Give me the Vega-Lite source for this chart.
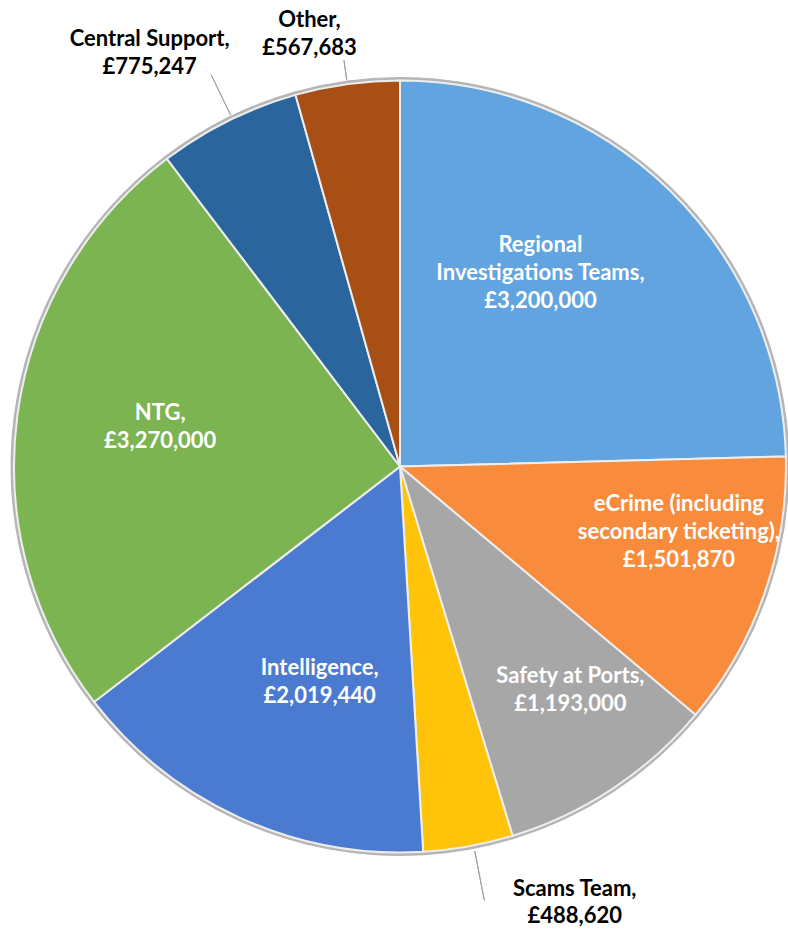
{
  "$schema": "https://vega.github.io/schema/vega-lite/v6.json",
  "autosize": {"type": "none"},
  "width": 776,
  "height": 925,
  "padding": {"left": 12, "top": 4, "right": 0, "bottom": 0},
  "background": "white",
  "config": {"view": {"stroke": null}},
  "data": {
    "values": [
      {"idx": 1, "cat": "Regional Investigations Teams", "value": 3200000, "label": "Regional\nInvestigations Teams,\n£3,200,000"},
      {"idx": 2, "cat": "eCrime (including secondary ticketing)", "value": 1501870, "label": "eCrime (including\nsecondary ticketing),\n£1,501,870"},
      {"idx": 3, "cat": "Safety at Ports", "value": 1193000, "label": "Safety at Ports,\n£1,193,000"},
      {"idx": 4, "cat": "Scams Team", "value": 488620, "label": "Scams Team,\n£488,620"},
      {"idx": 5, "cat": "Intelligence", "value": 2019440, "label": "Intelligence,\n£2,019,440"},
      {"idx": 6, "cat": "NTG", "value": 3270000, "label": "NTG,\n£3,270,000"},
      {"idx": 7, "cat": "Central Support", "value": 775247, "label": "Central Support,\n£775,247"},
      {"idx": 8, "cat": "Other", "value": 567683, "label": "Other,\n£567,683"}
    ]
  },
  "encoding": {
    "theta": {"field": "value", "type": "quantitative", "stack": true},
    "order": {"field": "idx", "type": "quantitative"},
    "detail": {"field": "cat", "type": "nominal"}
  },
  "layer": [
    {
      "mark": {"type": "arc", "radius": 389, "fill": "#b5b5b5", "stroke": "#b5b5b5", "strokeWidth": 1}
    },
    {
      "mark": {"type": "arc", "radius": 386, "stroke": "#eeeeee", "strokeWidth": 2},
      "encoding": {
        "color": {
          "field": "cat", "type": "nominal", "legend": null,
          "scale": {
            "domain": ["Regional Investigations Teams", "eCrime (including secondary ticketing)", "Safety at Ports", "Scams Team", "Intelligence", "NTG", "Central Support", "Other"],
            "range": ["#61a4df", "#f88b3c", "#a7a7a7", "#ffc40a", "#4b7bd0", "#7bb451", "#2a659d", "#a84f16"]
          }
        }
      }
    },
    {
      "mark": {"type": "arc", "radius": 410, "radius2": 390, "padAngle": 1.5, "fillOpacity": 0, "stroke": "#a0a0a0", "strokeWidth": 1},
      "encoding": {"strokeOpacity": {"condition": {"test": "datum.cat === 'Other'", "value": 1}, "value": 0}}
    },
    {
      "mark": {"type": "arc", "radius": 435, "radius2": 390, "padAngle": 1.5, "thetaOffset": 0.012, "fillOpacity": 0, "stroke": "#a0a0a0", "strokeWidth": 1},
      "encoding": {"strokeOpacity": {"condition": {"test": "datum.cat === 'Central Support'", "value": 1}, "value": 0}}
    },
    {
      "mark": {"type": "arc", "radius": 442, "radius2": 392, "padAngle": 1.5, "thetaOffset": -0.014, "fillOpacity": 0, "stroke": "#a0a0a0", "strokeWidth": 1},
      "encoding": {"strokeOpacity": {"condition": {"test": "datum.cat === 'Scams Team'", "value": 1}, "value": 0}}
    },
    {
      "mark": {"type": "text", "radius": 240, "dx": -27, "dy": -50, "font": "Lato", "fontWeight": "bold", "fontSize": 22, "lineHeight": 28, "lineBreak": "\n", "fill": "white", "align": "center", "baseline": "middle"},
      "encoding": {"text": {"condition": {"test": "datum.cat === 'Regional Investigations Teams'", "field": "label", "type": "nominal"}, "value": ""}}
    },
    {
      "mark": {"type": "text", "radius": 287, "dx": 8, "dy": -57, "font": "Lato", "fontWeight": "bold", "fontSize": 22, "lineHeight": 28, "lineBreak": "\n", "fill": "white", "align": "center", "baseline": "middle"},
      "encoding": {"text": {"condition": {"test": "datum.cat === 'eCrime (including secondary ticketing)'", "field": "label", "type": "nominal"}, "value": ""}}
    },
    {
      "mark": {"type": "text", "radius": 280, "dx": 16, "dy": -24, "font": "Lato", "fontWeight": "bold", "fontSize": 22, "lineHeight": 28, "lineBreak": "\n", "fill": "white", "align": "center", "baseline": "middle"},
      "encoding": {"text": {"condition": {"test": "datum.cat === 'Safety at Ports'", "field": "label", "type": "nominal"}, "value": ""}}
    },
    {
      "mark": {"type": "text", "radius": 230, "dx": 15, "dy": -8, "font": "Lato", "fontWeight": "bold", "fontSize": 22, "lineHeight": 28, "lineBreak": "\n", "fill": "white", "align": "center", "baseline": "middle"},
      "encoding": {"text": {"condition": {"test": "datum.cat === 'Intelligence'", "field": "label", "type": "nominal"}, "value": ""}}
    },
    {
      "mark": {"type": "text", "radius": 244, "dx": 2, "dy": -21, "font": "Lato", "fontWeight": "bold", "fontSize": 22, "lineHeight": 28, "lineBreak": "\n", "fill": "white", "align": "center", "baseline": "middle"},
      "encoding": {"text": {"condition": {"test": "datum.cat === 'NTG'", "field": "label", "type": "nominal"}, "value": ""}}
    },
    {
      "mark": {"type": "text", "radius": 484, "dx": -35, "dy": 6, "font": "Lato", "fontWeight": "bold", "fontSize": 22, "lineHeight": 28, "lineBreak": "\n", "fill": "black", "align": "center", "baseline": "middle"},
      "encoding": {"text": {"condition": {"test": "datum.cat === 'Central Support'", "field": "label", "type": "nominal"}, "value": ""}}
    },
    {
      "mark": {"type": "text", "radius": 443, "dx": -30, "dy": -8, "font": "Lato", "fontWeight": "bold", "fontSize": 22, "lineHeight": 28, "lineBreak": "\n", "fill": "black", "align": "center", "baseline": "middle"},
      "encoding": {"text": {"condition": {"test": "datum.cat === 'Other'", "field": "label", "type": "nominal"}, "value": ""}}
    },
    {
      "mark": {"type": "text", "radius": 467, "dx": 92, "dy": -37, "font": "Lato", "fontWeight": "bold", "fontSize": 22, "lineHeight": 27, "lineBreak": "\n", "fill": "black", "align": "center", "baseline": "middle"},
      "encoding": {"text": {"condition": {"test": "datum.cat === 'Scams Team'", "field": "label", "type": "nominal"}, "value": ""}}
    }
  ]
}
